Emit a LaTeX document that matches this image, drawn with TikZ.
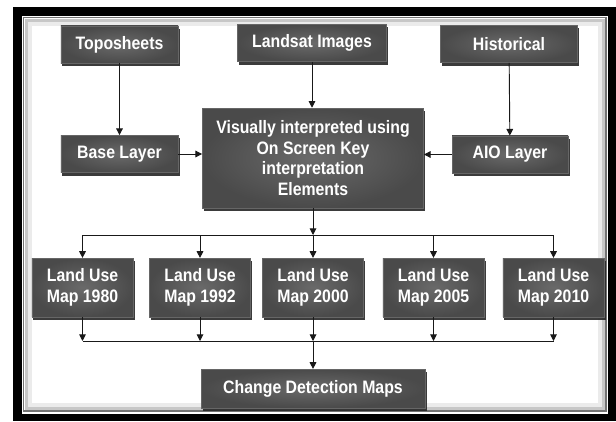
\documentclass[tikz,border=0pt]{standalone}
\usepackage{fontspec}
\setmainfont{Liberation Sans}[FakeStretch=0.88]
\usepackage{tikz}
\usetikzlibrary{arrows.meta, positioning, calc, shadows}
\definecolor{boxdark}{RGB}{74,74,74}
\definecolor{boxlight}{RGB}{106,106,106}
\definecolor{linedark}{RGB}{25,25,25}
\tikzset{
  greybox/.style={rectangle,inner sep=2pt,align=center,text=white,
    font=\fontsize{13.5}{15.4}\selectfont\bfseries,
    shading=radial,inner color=boxlight,outer color=boxdark,
    draw=black!60,line width=0.4pt,
    drop shadow={shadow xshift=1.2pt,shadow yshift=-2.2pt,fill=black!85,opacity=0.9}},
  srcbox/.style={greybox,minimum height=28pt},
  mapbox/.style={greybox,minimum width=76pt,minimum height=44pt},
  arr/.style={-{Triangle[length=5pt,width=5pt]},line width=0.7pt,color=linedark},
  bus/.style={line width=0.7pt,color=linedark}
}
\begin{document}
\begin{tikzpicture}[x=0.75pt,y=-0.75pt]
  \useasboundingbox (0,0) rectangle (616,421);
  % frame
  \fill[black] (13,7) rectangle (616,421);
  \fill[white] (22,15.5) rectangle (608,414);
  \draw[black!55,line width=1pt] (23.5,17.5) rectangle (606,411);
  \draw[black!22,line width=2.5pt] (26.5,20.5) rectangle (603,408);
  \draw[black!8,line width=3pt] (30,24) rectangle (599.5,404.5);

  % sources
  \node[srcbox,minimum width=88pt] (topo) at (119.5,44.5) {Toposheets};
  \node[srcbox,minimum width=112pt] (landsat) at (312,43) {Landsat Images};
  \node[srcbox,minimum width=103pt] (hist) at (509,44) {Historical};

  \node[srcbox,minimum width=88pt] (base) at (119.5,154) {Base Layer};
  \node[srcbox,minimum width=87pt] (aio) at (510,154.5) {AIO Layer};

  \node[greybox,minimum width=166pt,minimum height=75pt] (interp) at (313,158)
      {Visually interpreted using\\On Screen Key\\interpretation\\Elements};

  % land use maps
  \node[mapbox] (lu1) at (82.5,287.5) {Land Use\\Map 1980};
  \node[mapbox] (lu2) at (200,287.5) {Land Use\\Map 1992};
  \node[mapbox] (lu3) at (313,287.5) {Land Use\\Map 2000};
  \node[mapbox] (lu4) at (433.5,287.5) {Land Use\\Map 2005};
  \node[mapbox] (lu5) at (553.5,287.5) {Land Use\\Map 2010};

  \node[srcbox,minimum width=168pt,minimum height=29pt] (change) at (313,388.5)
      {Change Detection Maps};

  \coordinate (split) at (313,235);
  \coordinate (join) at (313,341);

  % connectors
  \draw[arr] (topo) -- (base);
  \draw[arr] (hist) -- (aio);
  \draw[arr] (landsat.south) -- (landsat.south |- interp.north);
  \draw[arr] (base.east) -- (base.east -| interp.west);
  \draw[arr] (aio.west) -- (aio.west -| interp.east);

  \draw[arr] (interp) -- (split);
  \draw[bus] (lu1 |- split) -- (lu5 |- split);
  \foreach \m in {lu1,lu2,lu3,lu4,lu5}
    \draw[arr] (\m |- split) -- (\m);

  \foreach \m in {lu1,lu2,lu3,lu4,lu5}
    \draw[arr] (\m) -- (\m |- join);
  \draw[bus] (lu1 |- join) -- (lu5 |- join);
  \draw[arr] (join) -- (change);
\end{tikzpicture}
\end{document}
